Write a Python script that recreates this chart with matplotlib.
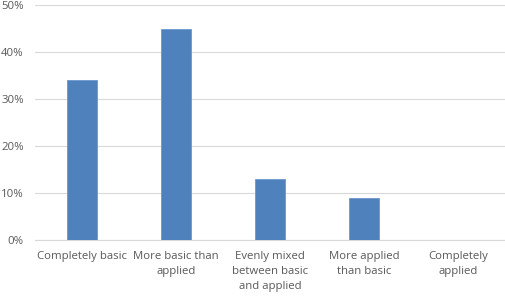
import matplotlib
matplotlib.use('Agg')
import matplotlib.pyplot as plt
from matplotlib.ticker import FuncFormatter

categories = ['Completely basic', 'More basic than\napplied', 'Evenly mixed\nbetween basic\nand applied',
              'More applied\nthan basic', 'Completely\napplied']
values = [0.34, 0.45, 0.13, 0.09, 0.0]
yticks = [0, 0.1, 0.2, 0.3, 0.4, 0.5]

plt.rcParams['font.family'] = ['Open Sans', 'DejaVu Sans']

fig = plt.figure(figsize=(5.05, 2.96), dpi=100)
ax = fig.add_axes([35/505, 1-240/296, 470/505, 235/296])

x = list(range(len(categories)))
ax.bar(x, values, width=0.32, color='#4F81BD', edgecolor='#6F97CC', linewidth=0.6, zorder=3)

ax.set_xlim(-0.5, len(categories)-0.5)
ax.set_ylim(0, 0.5)
ax.set_yticks(yticks)
ax.yaxis.set_major_formatter(FuncFormatter(lambda v, p: '%d%%' % round(v*100)))
ax.set_xticks(x)
ax.set_xticklabels(categories, linespacing=1.5)

ax.grid(axis='y', color='#D9D9D9', linewidth=0.8, zorder=0)
for s in ['top', 'right', 'left']:
    ax.spines[s].set_visible(False)
ax.spines['bottom'].set_color('#D9D9D9')
ax.spines['bottom'].set_linewidth(0.8)
ax.tick_params(axis='both', length=0, labelsize=8.2, colors='#595959')
ax.tick_params(axis='y', pad=8)
ax.tick_params(axis='x', pad=8)

fig.savefig('out.png', dpi=100)
